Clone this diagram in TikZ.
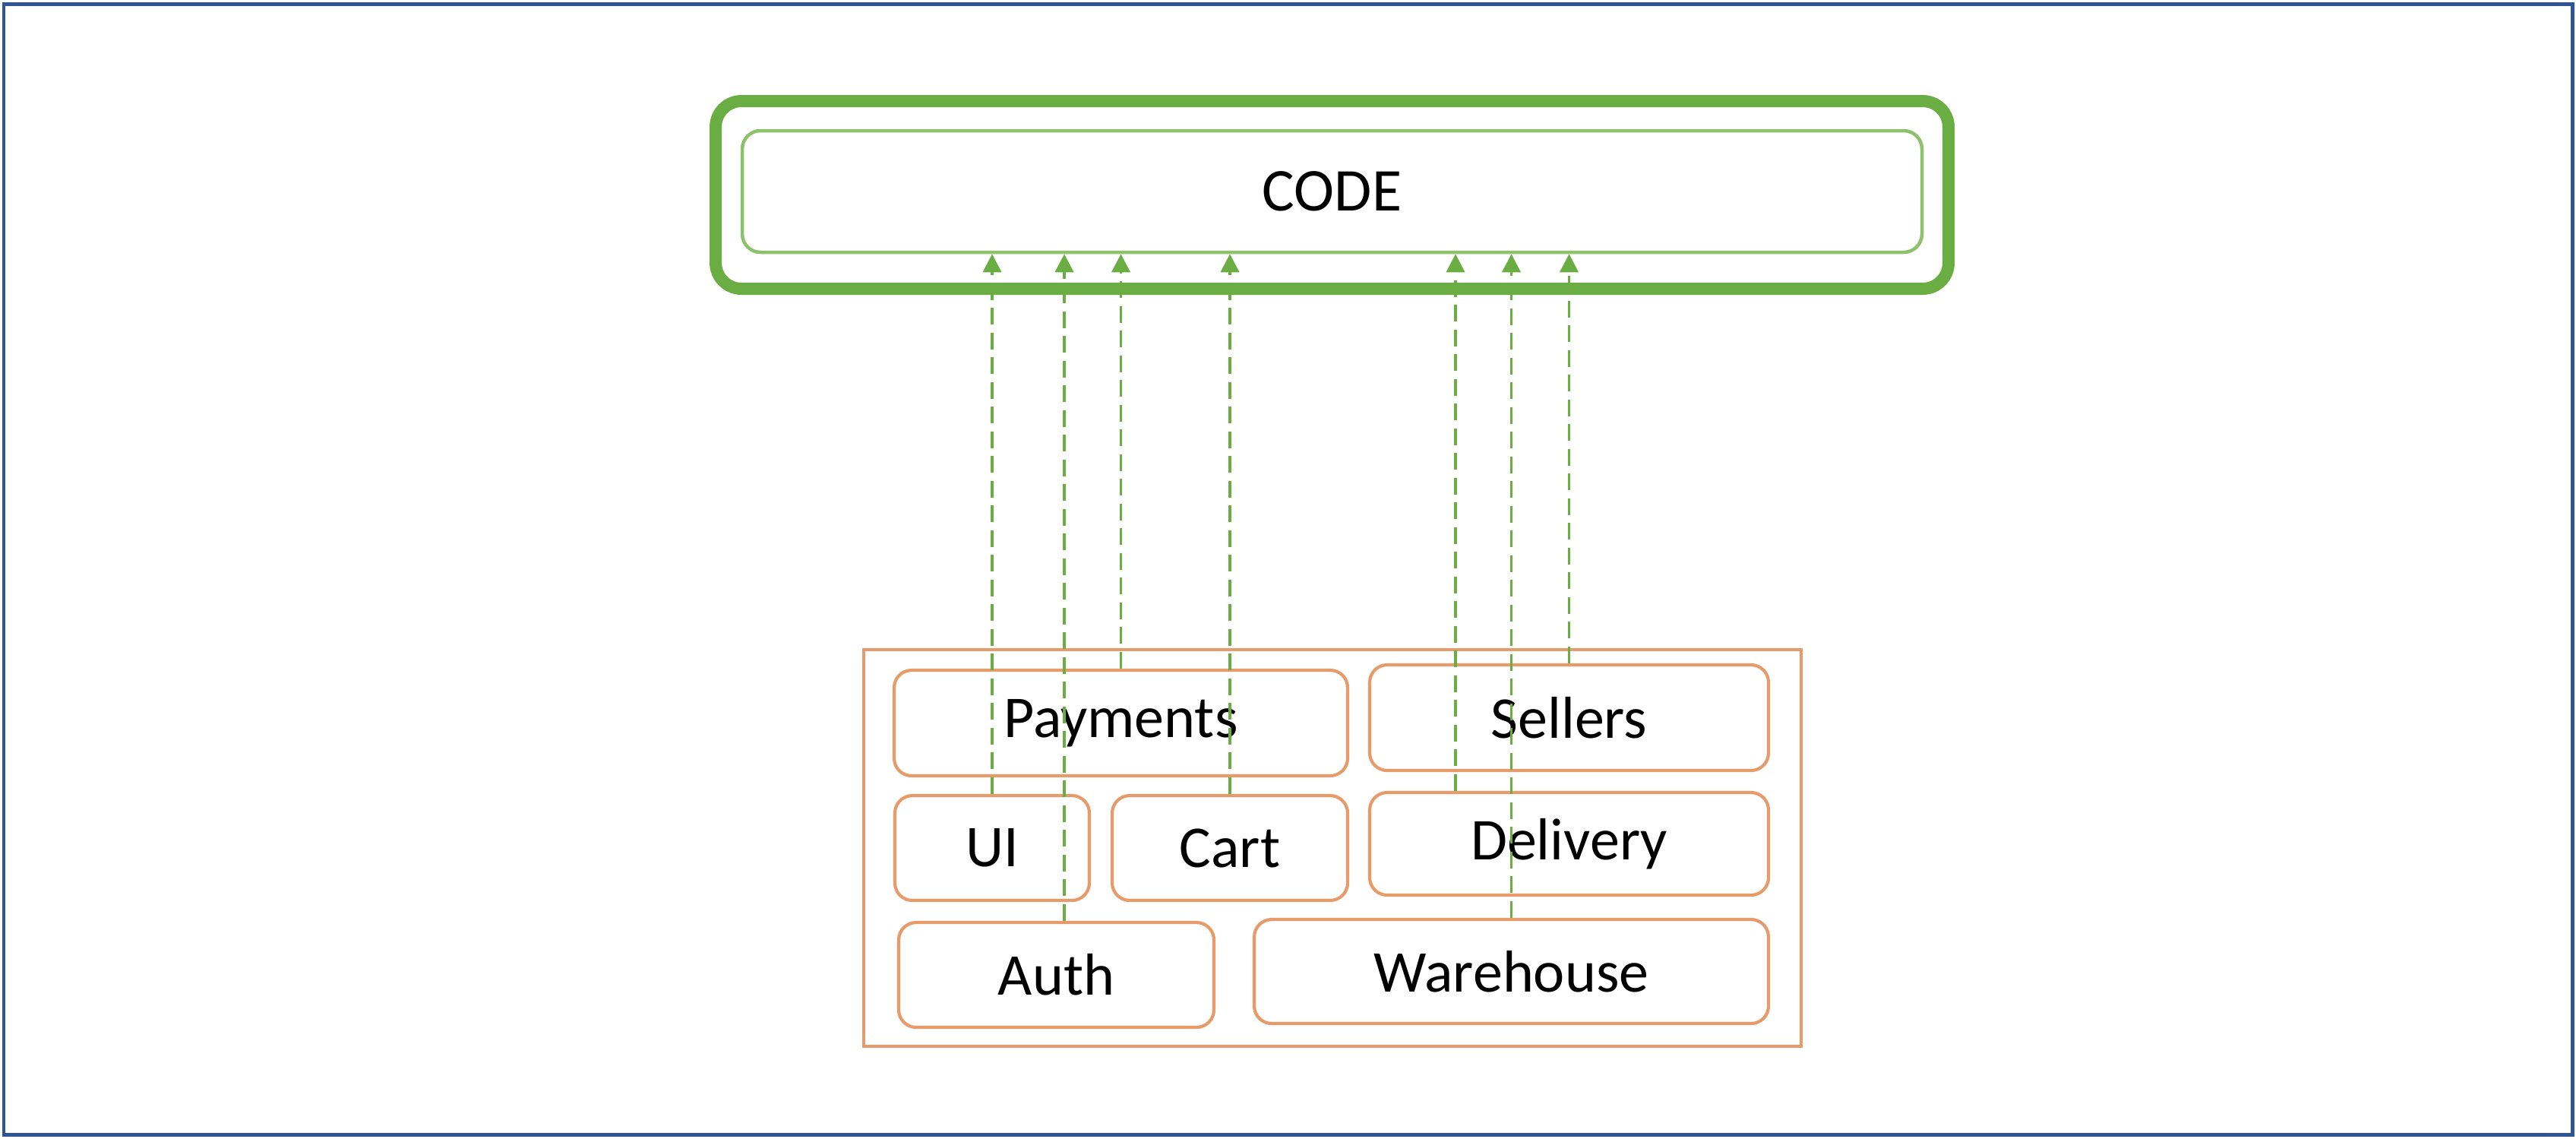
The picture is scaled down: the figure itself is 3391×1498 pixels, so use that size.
\documentclass[tikz,border=0pt]{standalone}
\usepackage{fontspec}
\setmainfont{Carlito}
\usetikzlibrary{arrows.meta}
\definecolor{frameblue}{HTML}{2F5597}
\definecolor{codegreen}{HTML}{6AAD42}
\definecolor{lightgreen}{HTML}{8CC26C}
\definecolor{boxorange}{HTML}{E89B6A}
\begin{document}
\begin{tikzpicture}[x=0.1pt,y=-0.1pt,
  codeframe/.style={draw=codegreen,line width=1.6pt,rounded corners=3.4pt,minimum width=162.3pt,minimum height=24.7pt,inner sep=0pt},
  codebox/.style={draw=lightgreen,line width=0.45pt,rounded corners=2.4pt,minimum width=155.3pt,minimum height=16pt,inner sep=0pt,font=\fontsize{8pt}{9.6pt}\selectfont},
  orangeframe/.style={draw=boxorange,line width=0.4pt,minimum width=123.4pt,minimum height=52.2pt,inner sep=0pt},
  modbox/.style={draw=boxorange,line width=0.42pt,rounded corners=2.3pt,inner sep=0pt,font=\fontsize{7.8pt}{9.3pt}\selectfont},
  dep/.style={draw=codegreen,line width=0.38pt,dash pattern=on 2.2pt off 1.05pt,-{Triangle[length=2.4pt,width=2.4pt]}}
]
\useasboundingbox (0,0) rectangle (3391,1498);
\draw[frameblue,line width=0.5pt] (5,5) rectangle (3386,1493);

\node[codeframe] (frame) at (1753.5,256.5) {};
\node[codebox] (code) at (1753.5,252) {CODE};

\node[orangeframe] (modules) at (1754,1116) {};
\node[modbox,minimum width=59.7pt,minimum height=13.9pt] (pay) at (1475.5,951.5) {Payments};
\node[modbox,minimum width=52.5pt,minimum height=13.9pt] (sel) at (2065.5,944.5) {Sellers};
\node[modbox,minimum width=25.6pt,minimum height=13.8pt] (ui) at (1306,1116) {UI};
\node[modbox,minimum width=31pt,minimum height=13.8pt] (cart) at (1619,1116) {Cart};
\node[modbox,minimum width=52.5pt,minimum height=13.5pt] (del) at (2065.5,1110.5) {Delivery};
\node[modbox,minimum width=41.5pt,minimum height=13.8pt] (auth) at (1390.5,1283) {Auth};
\node[modbox,minimum width=67.7pt,minimum height=13.7pt] (wh) at (1989.5,1278.5) {Warehouse};

\coordinate (authx) at (auth.north -| 1401,0);
\coordinate (delx) at (del.north -| 1916,0);

\draw[dep] (ui.north) -- (ui.north |- code.south);
\draw[dep] (authx) -- (authx |- code.south);
\draw[dep] (pay.north) -- (pay.north |- code.south);
\draw[dep] (cart.north) -- (cart.north |- code.south);
\draw[dep] (delx) -- (delx |- code.south);
\draw[dep] (wh.north) -- (wh.north |- code.south);
\draw[dep] (sel.north) -- (sel.north |- code.south);
\end{tikzpicture}
\end{document}
